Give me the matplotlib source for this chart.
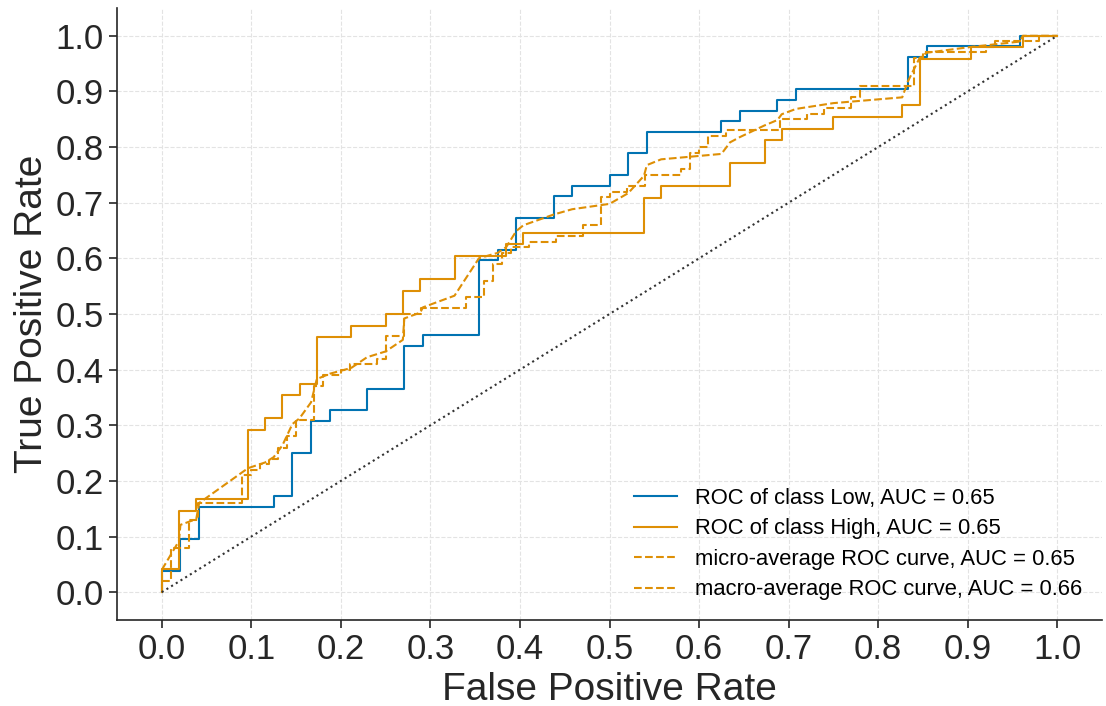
import numpy as np
import matplotlib
matplotlib.use("Agg")
import matplotlib.pyplot as plt

plt.rcParams["font.family"] = ["Liberation Sans", "DejaVu Sans"]

# ROC corner points per class (fpr, tpr)
fpr_low = [0, 0, 0.0208, 0.0208, 0.0417, 0.0417, 0.125, 0.125, 0.1458, 0.1458,
           0.1667, 0.1667, 0.1875, 0.1875, 0.2292, 0.2292, 0.2708, 0.2708, 0.2917,
           0.2917, 0.3542, 0.3542, 0.375, 0.375, 0.3958, 0.3958, 0.4375, 0.4375,
           0.4583, 0.4583, 0.5, 0.5, 0.5208, 0.5208, 0.5417, 0.5417, 0.625, 0.625,
           0.6458, 0.6458, 0.6875, 0.6875, 0.7083, 0.7083, 0.8333, 0.8333, 0.8542,
           0.8542, 0.9583, 0.9583, 1.0]
tpr_low = [0, 0.0385, 0.0385, 0.0962, 0.0962, 0.1538, 0.1538, 0.1731, 0.1731, 0.25,
           0.25, 0.3077, 0.3077, 0.3269, 0.3269, 0.3654, 0.3654, 0.4423, 0.4423,
           0.4615, 0.4615, 0.5962, 0.5962, 0.6154, 0.6154, 0.6731, 0.6731, 0.7115,
           0.7115, 0.7308, 0.7308, 0.75, 0.75, 0.7885, 0.7885, 0.8269, 0.8269,
           0.8462, 0.8462, 0.8654, 0.8654, 0.8846, 0.8846, 0.9038, 0.9038, 0.9615,
           0.9615, 0.9808, 0.9808, 1.0, 1.0]

fpr_high = [0, 0, 0.0192, 0.0192, 0.0385, 0.0385, 0.0962, 0.0962, 0.1154, 0.1154,
            0.1346, 0.1346, 0.1538, 0.1538, 0.1731, 0.1731, 0.2115, 0.2115, 0.25,
            0.25, 0.2692, 0.2692, 0.2885, 0.2885, 0.3269, 0.3269, 0.3846, 0.3846,
            0.4038, 0.4038, 0.5385, 0.5385, 0.5577, 0.5577, 0.6346, 0.6346, 0.6731,
            0.6731, 0.6923, 0.6923, 0.75, 0.75, 0.8269, 0.8269, 0.8462, 0.8462,
            0.9038, 0.9038, 0.9615, 0.9615, 1.0]
tpr_high = [0, 0.0417, 0.0417, 0.1458, 0.1458, 0.1667, 0.1667, 0.2917, 0.2917,
            0.3125, 0.3125, 0.3542, 0.3542, 0.375, 0.375, 0.4583, 0.4583, 0.4792,
            0.4792, 0.5, 0.5, 0.5417, 0.5417, 0.5625, 0.5625, 0.6042, 0.6042, 0.625,
            0.625, 0.6458, 0.6458, 0.7083, 0.7083, 0.7292, 0.7292, 0.7708, 0.7708,
            0.8125, 0.8125, 0.8333, 0.8333, 0.8542, 0.8542, 0.875, 0.875, 0.9583,
            0.9583, 0.9792, 0.9792, 1.0, 1.0]

# pooled (micro) curve
fpr_micro = [0, 0, 0.01, 0.01, 0.03, 0.03, 0.04, 0.04, 0.09, 0.09, 0.10, 0.10, 0.11,
             0.11, 0.12, 0.12, 0.13, 0.13, 0.14, 0.14, 0.15, 0.15, 0.17, 0.17, 0.18,
             0.18, 0.20, 0.20, 0.21, 0.21, 0.24, 0.24, 0.25, 0.25, 0.27, 0.27, 0.29,
             0.29, 0.34, 0.34, 0.36, 0.36, 0.37, 0.37, 0.38, 0.38, 0.39, 0.39, 0.41,
             0.41, 0.44, 0.44, 0.47, 0.47, 0.49, 0.49, 0.50, 0.50, 0.52, 0.52, 0.54,
             0.54, 0.58, 0.58, 0.59, 0.59, 0.60, 0.60, 0.61, 0.61, 0.63, 0.63, 0.69,
             0.69, 0.72, 0.72, 0.74, 0.74, 0.77, 0.77, 0.78, 0.78, 0.84, 0.84, 0.85,
             0.85, 0.92, 0.92, 0.93, 0.93, 0.98, 0.98, 1.0]
tpr_micro = [0, 0.02, 0.02, 0.08, 0.08, 0.13, 0.13, 0.16, 0.16, 0.21, 0.21, 0.22,
             0.22, 0.23, 0.23, 0.24, 0.24, 0.26, 0.26, 0.28, 0.28, 0.31, 0.31, 0.37,
             0.37, 0.39, 0.39, 0.40, 0.40, 0.41, 0.41, 0.42, 0.42, 0.46, 0.46, 0.50,
             0.50, 0.51, 0.51, 0.53, 0.53, 0.56, 0.56, 0.59, 0.59, 0.61, 0.61, 0.62,
             0.62, 0.63, 0.63, 0.64, 0.64, 0.66, 0.66, 0.71, 0.71, 0.72, 0.72, 0.73,
             0.73, 0.75, 0.75, 0.76, 0.76, 0.79, 0.79, 0.80, 0.80, 0.82, 0.82, 0.83,
             0.83, 0.85, 0.85, 0.86, 0.86, 0.87, 0.87, 0.89, 0.89, 0.91, 0.91, 0.96,
             0.96, 0.97, 0.97, 0.98, 0.98, 0.99, 0.99, 1.0, 1.0]

# class-averaged (macro) curve
fpr_macro = [0, 0.0192, 0.0208, 0.0385, 0.0417, 0.0962, 0.1154, 0.125, 0.1346,
             0.1458, 0.1538, 0.1667, 0.1731, 0.1875, 0.2115, 0.2292, 0.25, 0.2692,
             0.2708, 0.2885, 0.2917, 0.3269, 0.3542, 0.375, 0.3846, 0.3958, 0.4038,
             0.4375, 0.4583, 0.5, 0.5208, 0.5385, 0.5417, 0.5577, 0.625, 0.6346,
             0.6458, 0.6731, 0.6875, 0.6923, 0.7083, 0.75, 0.8269, 0.8333, 0.8462,
             0.8542, 0.9038, 0.9583, 0.9615, 1.0]
tpr_macro = [0.0401, 0.0921, 0.121, 0.1314, 0.1603, 0.2228, 0.2332, 0.2428, 0.2636,
             0.3021, 0.3125, 0.3413, 0.383, 0.3926, 0.403, 0.4223, 0.4327, 0.4535,
             0.492, 0.5024, 0.512, 0.5329, 0.6002, 0.6098, 0.6202, 0.649, 0.6595,
             0.6787, 0.6883, 0.6979, 0.7171, 0.7484, 0.7676, 0.778, 0.7877, 0.8085,
             0.8181, 0.8389, 0.8486, 0.859, 0.8686, 0.879, 0.8894, 0.9183, 0.9599,
             0.9696, 0.98, 0.9896, 1.0, 1.0]

class_names = ["Low", "High"]
auc_class = [0.65, 0.65]
auc_micro = 0.65
auc_macro = 0.66

blue = "#0173b2"
orange = "#de8f05"

fig = plt.figure(figsize=(11.06, 7.06), dpi=100)
ax = fig.add_axes([0.1058, 0.1218, 0.8906, 0.8669])

ax.plot(fpr_low, tpr_low, color=blue, lw=1.5,
        label=f"ROC of class {class_names[0]}, AUC = {auc_class[0]:.2f}")
ax.plot(fpr_high, tpr_high, color=orange, lw=1.5,
        label=f"ROC of class {class_names[1]}, AUC = {auc_class[1]:.2f}")
ax.plot(fpr_micro, tpr_micro, color=orange, lw=1.5, linestyle="--",
        label=f"micro-average ROC curve, AUC = {auc_micro:.2f}")
ax.plot(fpr_macro, tpr_macro, color=orange, lw=1.5, linestyle="--",
        label=f"macro-average ROC curve, AUC = {auc_macro:.2f}")
ax.plot([0, 1], [0, 1], color="#333333", linestyle=":", lw=1.5)

ax.set_xlim(-0.05, 1.05)
ax.set_ylim(-0.05, 1.05)
ticks = np.round(np.arange(0, 1.01, 0.1), 1)
ax.set_xticks(ticks)
ax.set_yticks(ticks)
ax.set_xticklabels([f"{t:.1f}" for t in ticks])
ax.set_yticklabels([f"{t:.1f}" for t in ticks])
ax.tick_params(labelsize=25, colors="#262626", length=6, width=1.2)

ax.set_xlabel("False Positive Rate", fontsize=28, color="#262626")
ax.set_ylabel("True Positive Rate", fontsize=28, color="#262626")

for side in ["top", "right"]:
    ax.spines[side].set_visible(False)
for side in ["left", "bottom"]:
    ax.spines[side].set_color("#262626")
    ax.spines[side].set_linewidth(1.2)

ax.grid(True, linestyle="--", color="#e3e3e3", lw=0.8)
ax.set_axisbelow(True)

ax.legend(loc="lower right", fontsize=15.8, frameon=False, labelspacing=0.43)

fig.savefig("out.png", dpi=100)
